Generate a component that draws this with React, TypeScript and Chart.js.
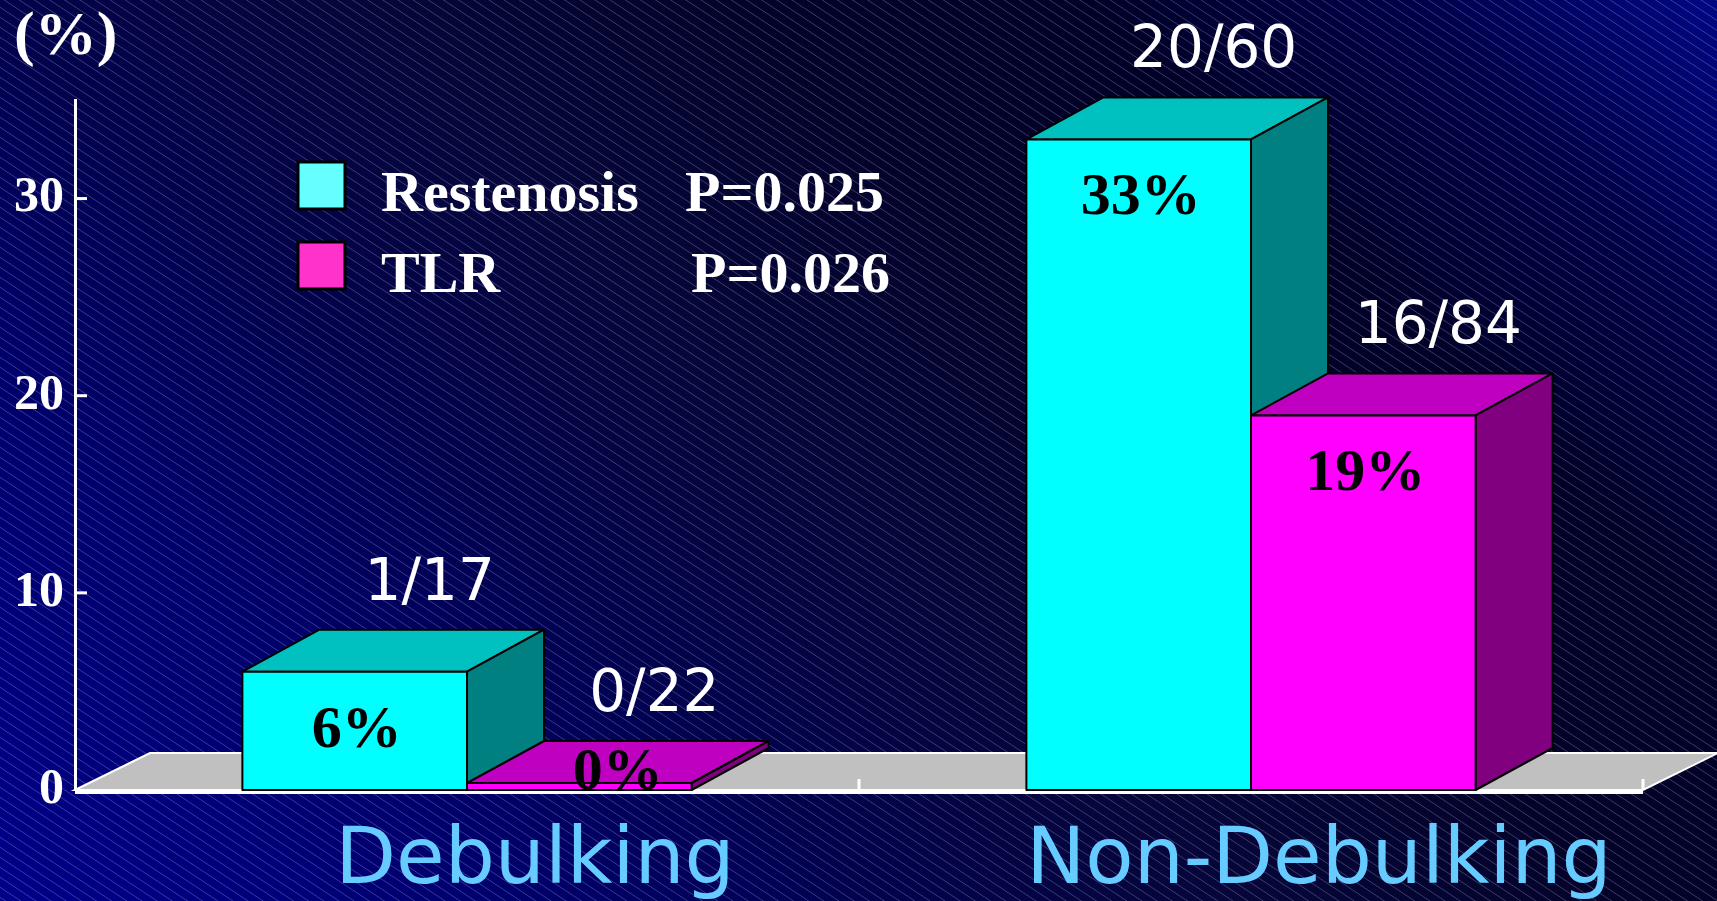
import React, { useEffect, useRef } from 'react';
import { Chart, registerables } from 'chart.js';

Chart.register(...registerables);

// ---------- data ----------
const categories = ['Debulking', 'Non-Debulking'];
const seriesNames = ['Restenosis', 'TLR'];
const restenosisValues = [6, 33];
const tlrValues = [0, 19];
const restenosisCounts = ['1/17', '20/60'];
const tlrCounts = ['0/22', '16/84'];
const pValues = ['P=0.025', 'P=0.026'];
const yTickValues = [0, 10, 20, 30];
const yMax = 35;
const yUnitLabel = '(%)';

// ---------- styles ----------
const frontColors = ['#00ffff', '#ff00ff'];
const topColors = ['#00c0c0', '#c000c0'];
const sideColors = ['#008080', '#800080'];
const legendColors = ['#66ffff', '#ff33cc'];

const W = 1717;
const H = 901;
const SERIF = '"Liberation Serif", "Times New Roman", serif';
const SANS = '"DejaVu Sans", sans-serif';
const BAR_DX = 77;
const BAR_DY = 42;
const FLOOR_DX = 75;
const FLOOR_DY = 37;

const countsBySeries = [restenosisCounts, tlrCounts];

const scenePlugin = {
  id: 'scene3d',
  beforeDraw(chart: any) {
    const ctx = chart.ctx as CanvasRenderingContext2D;
    ctx.save();
    const g = ctx.createLinearGradient(0, H, 1309, -408);
    g.addColorStop(0, 'rgb(0,0,138)');
    g.addColorStop(0.2, 'rgb(0,0,108)');
    g.addColorStop(0.34, 'rgb(2,2,76)');
    g.addColorStop(0.47, 'rgb(6,6,58)');
    g.addColorStop(0.62, 'rgb(3,3,42)');
    g.addColorStop(0.76, 'rgb(1,1,40)');
    g.addColorStop(0.88, 'rgb(0,0,72)');
    g.addColorStop(1, 'rgb(0,8,132)');
    ctx.fillStyle = g;
    ctx.fillRect(0, 0, W, H);
    // diagonal hatch
    ctx.strokeStyle = 'rgba(190,190,235,0.30)';
    ctx.lineWidth = 1;
    const slope = 0.66;
    const sp = 10;
    ctx.beginPath();
    for (let y0 = -W * slope; y0 < H; y0 += sp) {
      ctx.moveTo(0, y0 + 0.5);
      ctx.lineTo(W, y0 + W * slope + 0.5);
    }
    ctx.stroke();
    ctx.restore();
  },
  beforeDatasetsDraw(chart: any) {
    const ctx = chart.ctx as CanvasRenderingContext2D;
    const a = chart.chartArea;
    const L = a.left, R = a.right, B = a.bottom;
    ctx.save();
    ctx.beginPath();
    ctx.moveTo(L, B);
    ctx.lineTo(L + FLOOR_DX, B - FLOOR_DY);
    ctx.lineTo(R + FLOOR_DX, B - FLOOR_DY);
    ctx.lineTo(R, B);
    ctx.closePath();
    ctx.fillStyle = '#c0c0c0';
    ctx.fill();
    ctx.strokeStyle = '#ffffff';
    ctx.lineWidth = 2;
    ctx.stroke();
    ctx.lineWidth = 4;
    ctx.beginPath();
    ctx.moveTo(L, B + 2);
    ctx.lineTo(R, B + 2);
    ctx.stroke();
    // category boundary ticks
    const xs = chart.scales.x;
    const n = categories.length;
    const step = (xs.right - xs.left) / n;
    ctx.lineWidth = 3;
    for (let k = 1; k <= n; k++) {
      const bx = xs.left + k * step;
      ctx.beginPath();
      ctx.moveTo(bx, B);
      ctx.lineTo(bx, B - 11);
      ctx.stroke();
    }
    // y ticks (inward)
    const ys = chart.scales.y;
    for (const v of yTickValues) {
      if (v === 0) continue;
      const ty = ys.getPixelForValue(v);
      ctx.beginPath();
      ctx.moveTo(L, ty);
      ctx.lineTo(L + 12, ty);
      ctx.stroke();
    }
    ctx.restore();
  },
  afterDatasetsDraw(chart: any) {
    const ctx = chart.ctx as CanvasRenderingContext2D;
    const datasets = chart.data.datasets;
    ctx.save();
    ctx.lineJoin = 'round';
    ctx.strokeStyle = '#000000';
    ctx.lineWidth = 2;
    const boxes: any[] = [];
    for (let i = 0; i < categories.length; i++) {
      for (let d = 0; d < datasets.length; d++) {
        const el = chart.getDatasetMeta(d).data[i];
        const p = el.getProps(['x', 'y', 'base', 'width'], true);
        const left = p.x - p.width / 2;
        const right = p.x + p.width / 2;
        const top = Math.min(p.y, p.base);
        const bottom = Math.max(p.y, p.base);
        // top face
        ctx.beginPath();
        ctx.moveTo(left, top);
        ctx.lineTo(left + BAR_DX, top - BAR_DY);
        ctx.lineTo(right + BAR_DX, top - BAR_DY);
        ctx.lineTo(right, top);
        ctx.closePath();
        ctx.fillStyle = topColors[d];
        ctx.fill();
        ctx.stroke();
        // side face
        ctx.beginPath();
        ctx.moveTo(right, top);
        ctx.lineTo(right + BAR_DX, top - BAR_DY);
        ctx.lineTo(right + BAR_DX, bottom - BAR_DY);
        ctx.lineTo(right, bottom);
        ctx.closePath();
        ctx.fillStyle = sideColors[d];
        ctx.fill();
        ctx.stroke();
        // front face
        ctx.beginPath();
        ctx.rect(left, top, right - left, bottom - top);
        ctx.fillStyle = frontColors[d];
        ctx.fill();
        ctx.stroke();
        boxes.push({ x: p.x, top, bottom, value: datasets[d].data[i], count: countsBySeries[d][i] });
      }
    }
    ctx.textAlign = 'center';
    ctx.textBaseline = 'alphabetic';
    for (const b of boxes) {
      const flat = b.bottom - b.top < 30;
      ctx.fillStyle = '#000000';
      ctx.font = `bold 60px ${SERIF}`;
      ctx.fillText(`${b.value}%`, b.x + (flat ? BAR_DX / 2 : 2), Math.min(b.top + 75, b.bottom - 1));
      ctx.fillStyle = '#ffffff';
      ctx.font = `58px ${SANS}`;
      ctx.fillText(b.count, b.x + 75, b.top - 72);
    }
    ctx.restore();
  },
  afterDraw(chart: any) {
    const ctx = chart.ctx as CanvasRenderingContext2D;
    ctx.save();
    // unit label
    ctx.fillStyle = '#ffffff';
    ctx.font = `bold 62px ${SERIF}`;
    ctx.textAlign = 'left';
    ctx.textBaseline = 'alphabetic';
    ctx.fillText(yUnitLabel, 14, 54);
    // legend
    const legendRows = [
      { y: 162, textY: 211, pX: 685 },
      { y: 242, textY: 292, pX: 691 },
    ];
    seriesNames.forEach((name, k) => {
      const r = legendRows[k];
      ctx.fillStyle = legendColors[k];
      ctx.fillRect(298, r.y, 47, 47);
      ctx.strokeStyle = '#000000';
      ctx.lineWidth = 3;
      ctx.strokeRect(298, r.y, 47, 47);
      ctx.fillStyle = '#ffffff';
      ctx.font = `bold 58px ${SERIF}`;
      ctx.fillText(name, 381, r.textY);
      ctx.fillText(pValues[k], r.pX, r.textY);
    });
    // category labels
    const xs = chart.scales.x;
    ctx.fillStyle = '#66ccff';
    ctx.font = `79px ${SANS}`;
    ctx.textAlign = 'center';
    categories.forEach((c, i) => {
      ctx.fillText(c, xs.getPixelForValue(i) + 68, 883);
    });
    ctx.restore();
  },
};

export default function App() {
  const ref = useRef<HTMLCanvasElement>(null);
  useEffect(() => {
    const canvas = ref.current;
    if (!canvas) return;
    const chart = new Chart(canvas, {
      type: 'bar',
      data: {
        labels: categories,
        datasets: [
          {
            label: seriesNames[0],
            data: restenosisValues,
            backgroundColor: frontColors[0],
            borderColor: '#000000',
            borderWidth: 2,
            minBarLength: 7,
            barPercentage: 1,
            categoryPercentage: 0.573,
          },
          {
            label: seriesNames[1],
            data: tlrValues,
            backgroundColor: frontColors[1],
            borderColor: '#000000',
            borderWidth: 2,
            minBarLength: 7,
            barPercentage: 1,
            categoryPercentage: 0.573,
          },
        ],
      },
      options: {
        animation: false,
        responsive: false,
        maintainAspectRatio: false,
        devicePixelRatio: 1,
        layout: { padding: { left: 0, right: 74, top: 100, bottom: 0 } },
        plugins: {
          legend: { display: false },
          tooltip: { enabled: false },
          title: { display: false },
        },
        scales: {
          x: {
            grid: { display: false },
            border: { display: false },
            ticks: { display: false },
            afterFit: (s: any) => {
              s.height = 111;
            },
          },
          y: {
            min: 0,
            max: yMax,
            grid: { display: false },
            border: { display: true, color: '#ffffff', width: 3 },
            ticks: {
              color: '#ffffff',
              padding: 3,
              font: { family: SERIF, weight: 'bold', size: 50 },
            },
            afterBuildTicks: (s: any) => {
              s.ticks = yTickValues.map((v) => ({ value: v }));
            },
            afterFit: (s: any) => {
              s.width = 75;
            },
          },
        },
      },
      plugins: [scenePlugin],
    } as any);
    return () => chart.destroy();
  }, []);
  return (
    <div style={{ position: 'absolute', left: 0, top: 0, width: W, height: H }}>
      <canvas ref={ref} width={W} height={H} style={{ display: 'block', width: W, height: H }} />
    </div>
  );
}
